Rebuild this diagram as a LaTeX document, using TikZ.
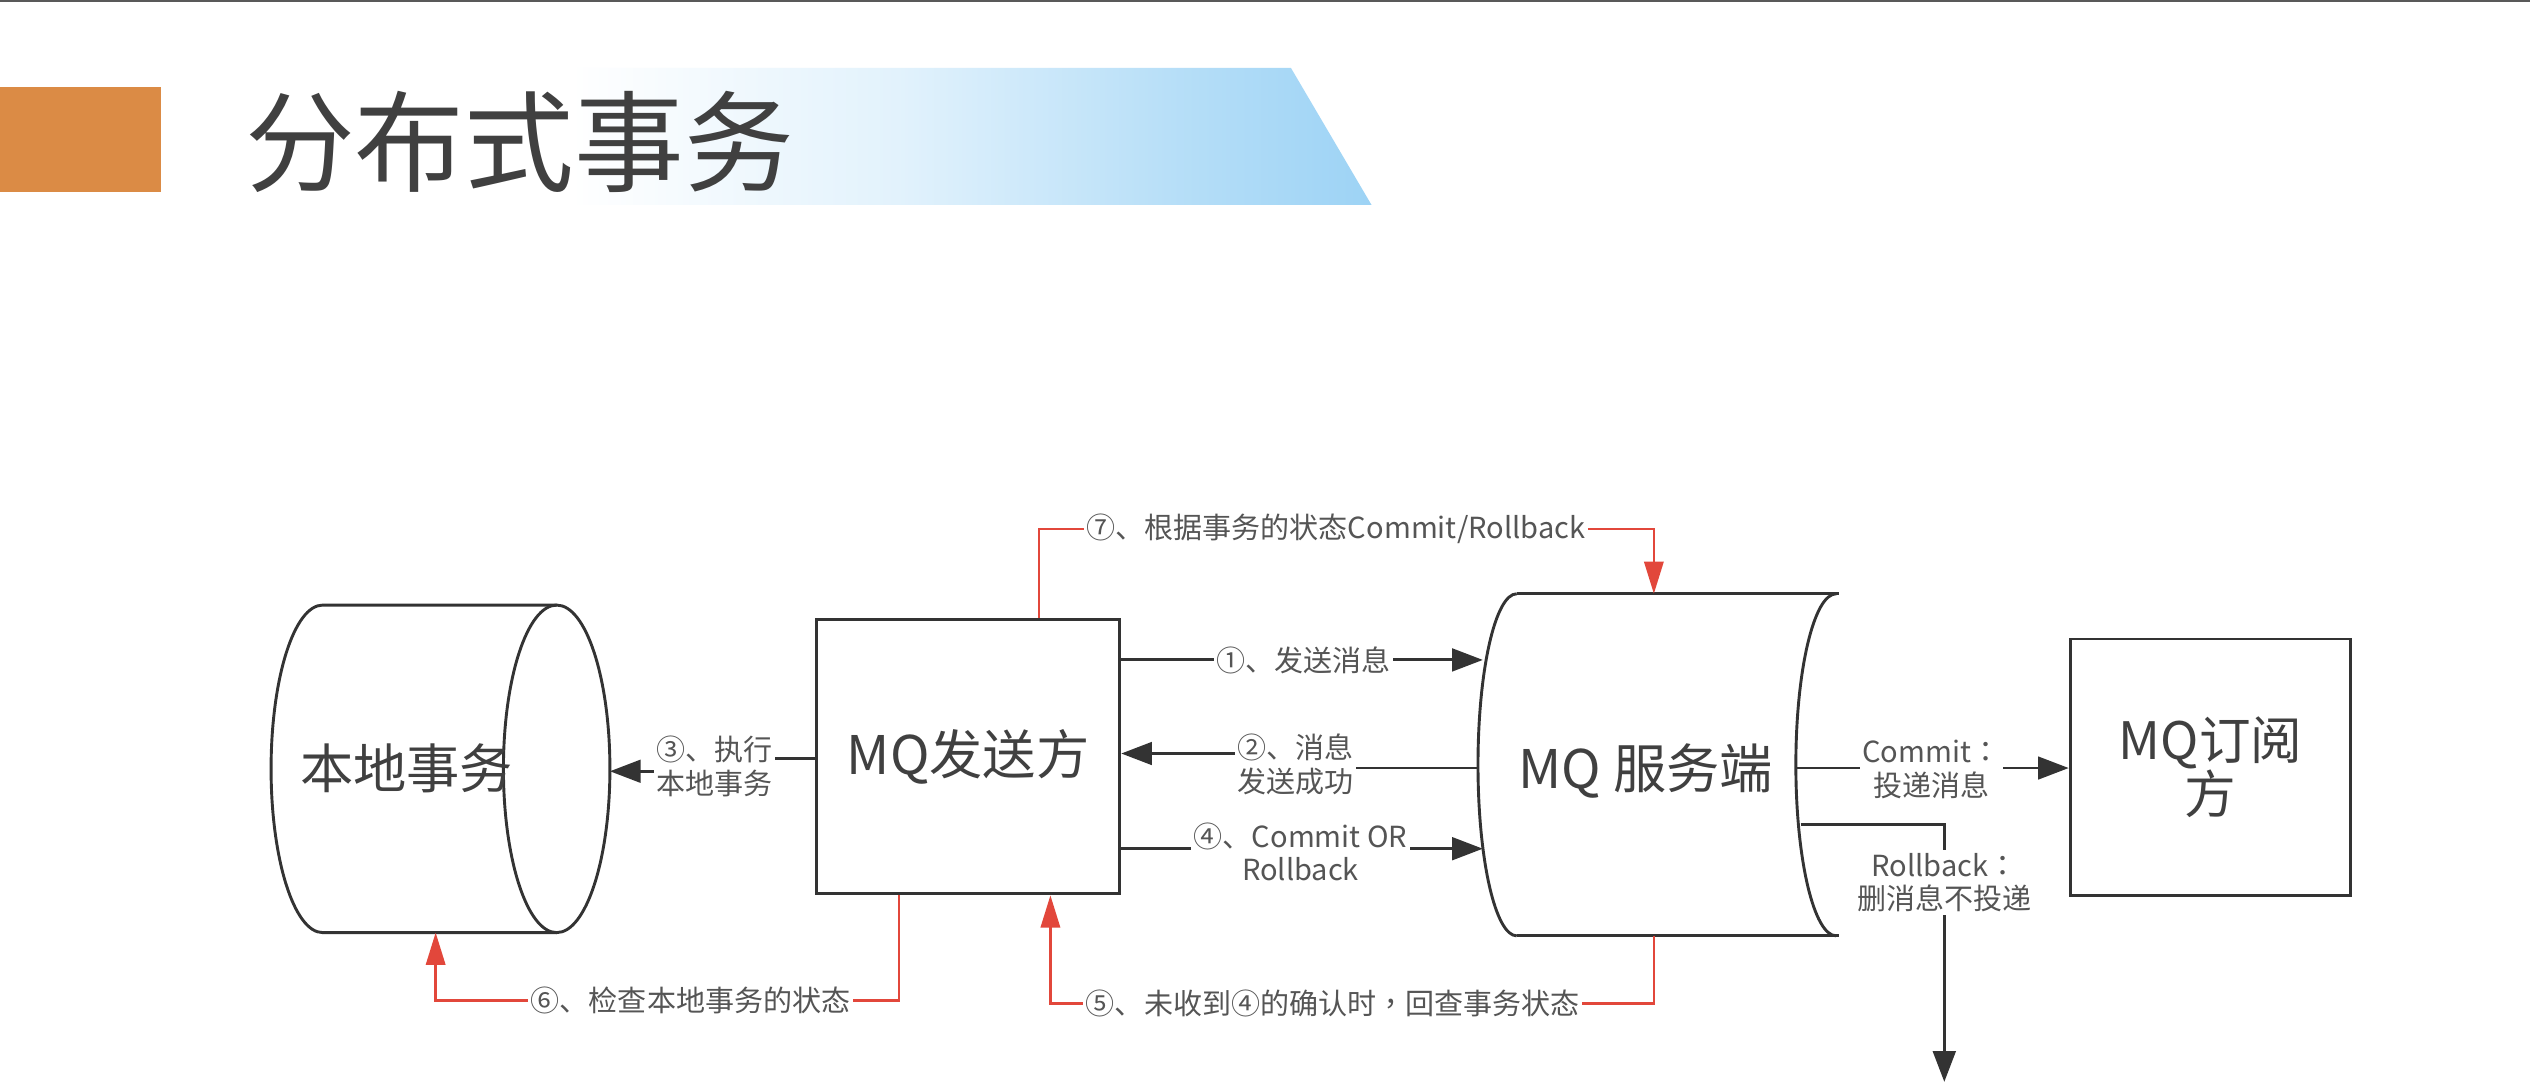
\documentclass[tikz,border=0pt]{standalone}
\usepackage{fontspec}
\setmainfont{Noto Sans CJK SC}
\newfontfamily\tcfont{Noto Sans CJK TC}
\usetikzlibrary{arrows.meta}
\definecolor{lineblk}{HTML}{333333}
\definecolor{redln}{HTML}{E2473B}
\definecolor{lblgray}{HTML}{555555}
\definecolor{titlegray}{HTML}{404040}
\definecolor{orangeblk}{HTML}{DB8B45}
\definecolor{bannerblue}{HTML}{9DD3F5}
\pgfdeclarehorizontalshading{bannershade}{100bp}{color(0bp)=(white); color(25bp)=(white); color(41bp)=(white); color(55bp)=(bannerblue!30!white); color(67bp)=(bannerblue!75!white); color(75bp)=(bannerblue); color(100bp)=(bannerblue)}
\begin{document}
\begin{tikzpicture}[x=1pt,y=-1pt,
  shp/.style={draw=lineblk, line width=1.8pt},
  mainlbl/.style={font=\fontsize{33}{36}\selectfont, text=titlegray},
  lbl/.style={font=\fontsize{18}{21}\selectfont, text=lblgray, fill=white, inner sep=1.5pt, align=center},
  blkarrow/.style={draw=lineblk, line width=1.8pt, -{Triangle[length=19pt,width=14pt]}},
  redarrow/.style={draw=redln, line width=1.5pt, -{Triangle[length=20pt,width=12pt]}},
  ghost/.style={inner sep=0pt, outer sep=0pt}
]
\useasboundingbox (0,0) rectangle (1568,670.58);
\fill[white] (0,0) rectangle (1568,670.58);
\fill[black!65] (0,0) rectangle (1568,1.4);

% title
\fill[orangeblk] (0,54) rectangle (100,119);
\shade[shading=bannershade]
  (120,42) -- (800,42) -- (850,127) -- (120,127) -- cycle;
\node[font=\fontsize{68}{80}\selectfont, text=titlegray] (title) at (322,88) {分布式事务};

% local transaction cylinder
\node[ghost, minimum width=210pt, minimum height=203pt] (localshape) at (273,476.5) {};
\draw[shp] (345,375) -- (200,375) arc[start angle=90, end angle=270, x radius=32pt, y radius=101.5pt] -- (345,578);
\draw[shp] (345,476.5) ellipse [x radius=33pt, y radius=101.5pt];
\node[mainlbl] (localtext) at (252,476) {本地事务};

% sender
\node[shp, mainlbl, minimum width=188pt, minimum height=170pt] (sender) at (600,469) {MQ发送方};

% server
\node[ghost, minimum width=222pt, minimum height=212pt] (server) at (1027,474) {};
\draw[shp] (940,368) -- (1140,368);
\draw[shp] (940,580) -- (1140,580);
\draw[shp] (940,368) arc[start angle=90, end angle=270, x radius=24pt, y radius=106pt];
\draw[shp] (1138,368) arc[start angle=90, end angle=270, x radius=25pt, y radius=106pt];
\node[mainlbl] (servertext) at (1020,478) {MQ 服务端};

% subscriber
\node[shp, mainlbl, font=\fontsize{32}{34}\selectfont, align=center, minimum width=174pt, minimum height=159pt] (sub) at (1370,475.5) {MQ订阅\\方};

\coordinate (discard) at (1205,670.5);

% black connectors
\draw[blkarrow] (sender.east |- 0,409) -- ([xshift=3pt]server.west |- 0,409);
\node[lbl] (l1) at (808,409) {①、发送消息};

\draw[blkarrow] (server.west |- 0,476) -- (790,476) -- (790,467) -- (sender.east |- 0,467);
\node[lbl] (l2) at (803,474) {②、消息\\发送成功};

\draw[blkarrow] (sender.west |- 0,470) -- (445,470) -- (445,478) -- (localshape.east |- 0,478);
\node[lbl] (l3) at (443,475) {③、执行\\本地事务};

\draw[blkarrow] (sender.east |- 0,526) -- ([xshift=3pt]server.west |- 0,526);
\node[lbl] (l4) at (806,528) {④、Commit OR\\Rollback};

\draw[blkarrow] ([xshift=-25pt]server.east |- 0,476) -- (sub.west |- 0,476);
\node[lbl] (lc) at (1197,477) {Commit{\tcfont ：}\\投递消息};

\draw[blkarrow] ([xshift=-22pt]server.east |- 0,511) -- (1205,511) -- (discard);
\node[lbl] (lr) at (1205,547) {Rollback{\tcfont ：}\\删消息不投递};

% red connectors
\draw[redarrow] (server.south -| 1025,0) -- (1025,622) -- (651,622) -- (sender.south -| 651,0);
\node[lbl] (l5) at (826,622) {⑤、未收到④的确认时{\tcfont ，}回查事务状态};

\draw[redarrow] (sender.south -| 557,0) -- (557,620) -- (270,620) -- (localshape.south -| 270,0);
\node[lbl] (l6) at (428,620) {⑥、检查本地事务的状态};

\draw[redarrow] (sender.north -| 644,0) -- (644,328) -- (1025,328) -- (server.north -| 1025,0);
\node[lbl] (l7) at (828,328) {⑦、根据事务的状态Commit/Rollback};
\end{tikzpicture}
\end{document}
